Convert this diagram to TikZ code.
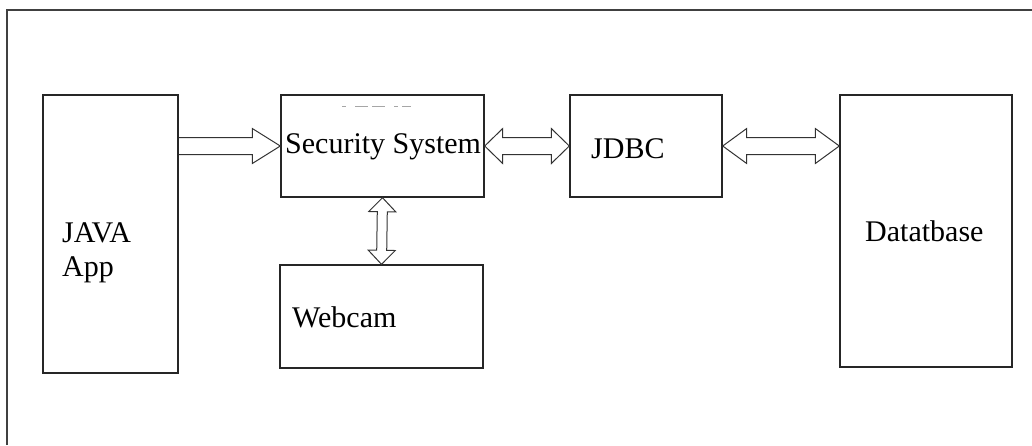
\documentclass[tikz,border=0pt]{standalone}
\usepackage{fontspec}
\setmainfont{Liberation Serif}
\usetikzlibrary{calc}

\tikzset{
  box/.style={draw=black!85, line width=1.4pt, inner sep=0pt},
  txt/.style={anchor=base west, inner sep=0pt, font=\fontsize{30}{36}\selectfont},
  arrowline/.style={draw=black!80, line width=1pt, line join=miter},
  % #1 head length, #2 half head width, #3 half shaft width
  hollow/.style n args={3}{to path={
      ($(\tikztostart)!#3!90:(\tikztotarget)$)
      -- ($($(\tikztotarget)!#1!(\tikztostart)$)!#3!-90:(\tikztostart)$)
      -- ($($(\tikztotarget)!#1!(\tikztostart)$)!#2!-90:(\tikztostart)$)
      -- (\tikztotarget)
      -- ($($(\tikztotarget)!#1!(\tikztostart)$)!#2!90:(\tikztostart)$)
      -- ($($(\tikztotarget)!#1!(\tikztostart)$)!#3!90:(\tikztostart)$)
      -- ($(\tikztostart)!#3!-90:(\tikztotarget)$)}},
  dblhollow/.style n args={3}{to path={
      ($($(\tikztostart)!#1!(\tikztotarget)$)!#3!90:(\tikztotarget)$)
      -- ($($(\tikztotarget)!#1!(\tikztostart)$)!#3!-90:(\tikztostart)$)
      -- ($($(\tikztotarget)!#1!(\tikztostart)$)!#2!-90:(\tikztostart)$)
      -- (\tikztotarget)
      -- ($($(\tikztotarget)!#1!(\tikztostart)$)!#2!90:(\tikztostart)$)
      -- ($($(\tikztotarget)!#1!(\tikztostart)$)!#3!90:(\tikztostart)$)
      -- ($($(\tikztostart)!#1!(\tikztotarget)$)!#3!-90:(\tikztotarget)$)
      -- ($($(\tikztostart)!#1!(\tikztotarget)$)!#2!-90:(\tikztotarget)$)
      -- (\tikztostart)
      -- ($($(\tikztostart)!#1!(\tikztotarget)$)!#2!90:(\tikztotarget)$)
      -- cycle}},
}

\begin{document}
\begin{tikzpicture}[x=1pt, y=-1pt]
  \useasboundingbox (0,0) rectangle (1032,445);
  % frame
  \draw[black!75, line width=1.4pt] (7,445) -- (7,10) -- (1032,10);

  \node[box, minimum width=135pt, minimum height=278pt] (java) at (110.5,234) {};
  \node[box, minimum width=203pt, minimum height=102pt] (sec) at (382.5,146) {};
  \node[box, minimum width=152pt, minimum height=102pt] (jdbc) at (646,146) {};
  \node[box, minimum width=172pt, minimum height=272pt] (db) at (926,231) {};
  \node[box, minimum width=203pt, minimum height=103pt] (web) at (381.5,316.5) {};

  \node[txt] (javatext) at (62,242) {JAVA};
  \node[txt] (apptext) at (62,276) {App};
  \node[txt] (sectext) at (285,153) {Security System};
  \node[txt] (jdbctext) at (591,158) {JDBC};
  \node[txt] (webtext) at (292,327) {Webcam};
  \node[txt] (dbtext) at (865,241) {Datatbase};

  \draw[black!35, line width=0.8pt, dash pattern=on 4pt off 9pt on 13pt off 4pt on 13pt off 9pt on 4pt] (342,106) -- (417,106);

  \coordinate (javaout) at (java.east |- sec.west);
  \coordinate (dbin) at (jdbc.east -| db.west);

  \draw[arrowline] (javaout) to[hollow={28pt}{17.5pt}{8.5pt}] (sec.west);
  \draw[arrowline] (sec.east) to[dblhollow={18pt}{17.5pt}{8.5pt}] (jdbc.west);
  \draw[arrowline] (jdbc.east) to[dblhollow={24pt}{17.5pt}{8.5pt}] (dbin);
  \draw[arrowline] (sec.south) to[dblhollow={14pt}{13.5pt}{5pt}] (web.north);
\end{tikzpicture}
\end{document}
